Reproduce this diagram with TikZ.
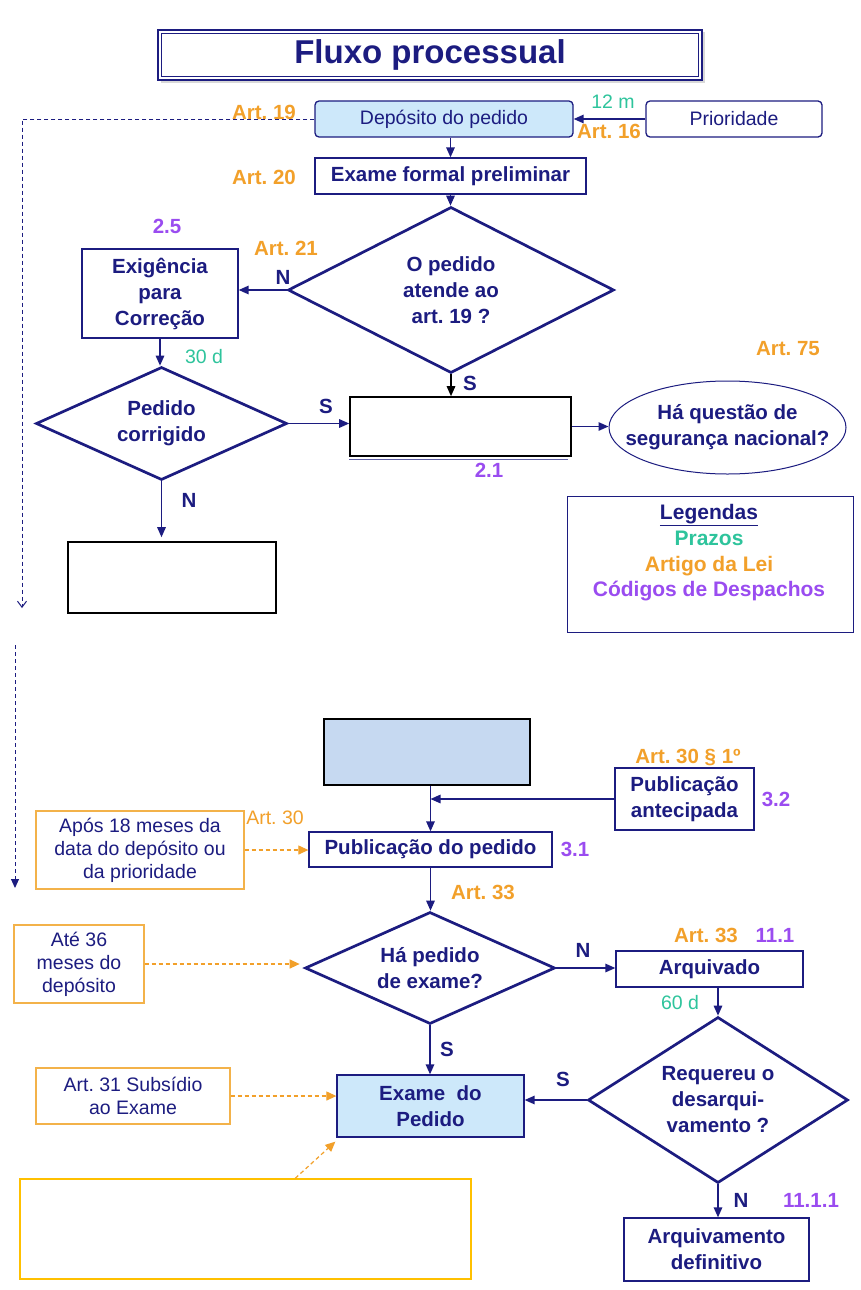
\documentclass[tikz,border=0pt]{standalone}
\usepackage{fontspec}
\setmainfont{Liberation Sans}
\usetikzlibrary{shapes.geometric,arrows.meta,calc,shadows}
\definecolor{navy}{HTML}{1C1C80}
\definecolor{orng}{HTML}{F2A02A}
\definecolor{oborder}{HTML}{F3B24A}
\definecolor{grn}{HTML}{2EC49C}
\definecolor{purp}{HTML}{9A4CF0}
\definecolor{lblue}{HTML}{CDE8FA}
\definecolor{sblue}{HTML}{C6D9F1}
\definecolor{gold}{HTML}{FFC000}
\newcommand\bsz{\fontsize{20.5}{26}\selectfont\bfseries}
\newcommand\rsz{\fontsize{19.5}{23}\selectfont}
\newcommand\tsz{\fontsize{33}{38}\selectfont\bfseries}
\frenchspacing
\begin{document}
\begin{tikzpicture}[x=1pt,y=-1pt,
  arr/.style={draw=navy, line width=1.4pt, -{Triangle[length=10pt,width=8.5pt]}},
  darr/.style={draw=orng, line width=1.2pt, dash pattern=on 4pt off 3pt, -{Triangle[length=10pt,width=9pt]}},
  bx/.style={draw=navy, line width=1.3pt, rectangle, inner sep=0pt, text=navy, align=center, font=\bsz},
  rbx/.style={bx, rounded corners=4pt, font=\rsz},
  dia/.style={draw=navy, line width=2.7pt, diamond, inner sep=0pt, text=navy, align=center, font=\bsz},
  obox/.style={draw=oborder, line width=1.2pt, rectangle, inner sep=0pt, text=navy, align=center, font=\rsz},
  olab/.style={font=\bsz, text=orng, inner sep=0pt},
  plab/.style={font=\bsz, text=purp, inner sep=0pt},
  glab/.style={font=\rsz, text=grn, inner sep=0pt},
  nlab/.style={font=\bsz, text=navy, inner sep=0pt},
]
\useasboundingbox[fill=white] (0,0) rectangle (860,1290);

% title
\node[draw=navy, line width=2.5pt, fill=white, minimum width=544pt, minimum height=50pt, inner sep=0pt,
  drop shadow={shadow xshift=2.5pt, shadow yshift=-2.5pt, fill=gray!60}, text=navy, font=\tsz] (title) at (430,55) {Fluxo processual};
\draw[navy, line width=1pt] ([shift={(4.5pt,-4.5pt)}]title.north west) rectangle ([shift={(-4.5pt,4.5pt)}]title.south east);

% top part
\node[rbx, fill=lblue, minimum width=258pt, minimum height=36pt] (dep) at (444,119) {Depósito do pedido};
\node[rbx, fill=white, minimum width=176pt, minimum height=36pt] (prio) at (734,119) {Prioridade};
\node[bx, minimum width=271pt, minimum height=36pt] (exf) at (450.5,176) {Exame formal preliminar};
\node[dia, aspect=2, minimum width=326pt, minimum height=166pt] (d1) at (451,290) {O pedido\\atende ao\\art. 19 ?};
\node[bx, minimum width=156pt, minimum height=89pt] (exig) at (160,293.5) {Exigência\\para\\Correção};
\node[dia, aspect=2.6, minimum width=251pt, minimum height=113pt] (d2) at (161.5,423.5) {Pedido\\corrigido};
\node[bx, draw=black, line width=1.6pt, minimum width=221pt, minimum height=59pt] (b21) at (460.5,426.5) {};
\draw[navy!70, line width=1pt] ([yshift=-3pt]b21.south west) -- ([yshift=-3pt,xshift=-4pt]b21.south east);
\node[draw=navy, line width=1pt, ellipse, minimum width=237pt, minimum height=93pt, inner xsep=-30pt, inner ysep=0pt, text=navy, align=center, font=\bsz] (ell) at (727.5,427.5) {Há questão de\\segurança nacional?};
\node[bx, draw=black, line width=1.6pt, minimum width=208pt, minimum height=71pt] (blank) at (172,577.5) {};

% legend
\node[draw=navy, line width=1pt, minimum width=286pt, minimum height=136pt, inner sep=0pt] (leg) at (710,564) {};
\node[font=\fontsize{21}{25.7}\selectfont\bfseries, align=center, inner sep=0pt] (legtxt) at (709,553) {\textcolor{navy}{\underline{Legendas}}\\\textcolor{grn}{Prazos}\\\textcolor{orng}{Artigo da Lei}\\\textcolor{purp}{Códigos de Despachos}};

% top labels
\node[olab] (a19) at (264,112) {Art. 19};
\node[glab] (m12) at (613,102) {12 m};
\node[olab] (a16) at (609,131) {Art. 16};
\node[olab] (a20) at (264,177) {Art. 20};
\node[plab] (c25) at (167,226) {2.5};
\node[olab] (a21) at (286,248) {Art. 21};
\node[nlab] (n1) at (283,277) {N};
\node[glab] (d30) at (204,357) {30 d};
\node[nlab] (s1) at (326,406) {S};
\node[nlab] (s2) at (470,383) {S};
\node[nlab] (n2) at (189,500) {N};
\node[plab] (c21) at (489,470) {2.1};
\node[olab] (a75) at (788,349) {Art. 75};

% top connectors
\draw[arr] (prio.west) -- (dep.east);
\draw[arr] (dep.south -| exf.north) -- (exf.north);
\draw[arr] (exf.south) -- (exf.south |- d1.north);
\draw[arr] (d1.west) -- (d1.west -| exig.east);
\draw[arr] (exig.south) -- (exig.south |- d2.north);
\draw[arr] (d2.east) -- (d2.east -| b21.west);
\draw[arr, draw=black] (d1.south) -- (d1.south |- b21.north);
\draw[arr] (b21.east) -- (b21.east -| ell.west);
\draw[arr, shorten >=4pt] (d2.south) -- (d2.south |- blank.north);

% left dashed line
\coordinate (dl1) at (22,119);
\coordinate (dl2) at (22,608);
\coordinate (dl3) at (15,645);
\coordinate (dl4) at (15,888);
\draw[navy, line width=1pt, dash pattern=on 4pt off 3pt, -{Straight Barb[length=6pt,width=9pt,line width=1pt]}] (dep.west) -- (dl1) -- (dl2);
\draw[navy, line width=1pt, dash pattern=on 4pt off 3pt, -{Triangle[length=9pt,width=8pt]}] (dl3) -- (dl4);

% lower part
\node[bx, draw=black, fill=sblue, line width=1.5pt, minimum width=206pt, minimum height=66pt] (blue) at (427,752) {};
\node[bx, minimum width=139pt, minimum height=62pt] (pant) at (684.5,799) {Publicação\\antecipada};
\node[bx, minimum width=243pt, minimum height=35pt] (pub) at (430.5,849.5) {Publicação do pedido};
\node[obox, minimum width=208pt, minimum height=78pt] (ob1) at (140,850) {Após 18 meses da\\data do depósito ou\\da prioridade};
\node[dia, aspect=2.6, minimum width=250pt, minimum height=112pt] (d3) at (430,968) {Há pedido\\de exame?};
\node[obox, minimum width=130pt, minimum height=78pt] (ob2) at (79,964) {Até 36\\meses do\\depósito};
\node[bx, minimum width=187pt, minimum height=36pt] (arq) at (709.5,969) {Arquivado};
\node[dia, aspect=1.6, minimum width=260pt, minimum height=166pt] (d4) at (718,1100) {Requereu o\\desarqui-\\vamento ?};
\node[bx, fill=lblue, minimum width=187pt, minimum height=62pt] (exped) at (430.5,1106) {Exame\ \ do\\Pedido};
\node[obox, minimum width=194pt, minimum height=56pt] (ob3) at (133,1096) {Art. 31 Subsídio\\ao Exame};
\node[draw=gold, line width=1.5pt, minimum width=451pt, minimum height=100pt, inner sep=0pt] (yel) at (245.5,1229) {};
\node[bx, minimum width=185pt, minimum height=63pt] (adef) at (716.5,1249.5) {Arquivamento\\definitivo};

% lower labels
\node[olab] (a301) at (688,757) {Art. 30 § 1º};
\node[plab] (c32) at (776,799) {3.2};
\node[plab] (c31) at (575,849) {3.1};
\node[font=\rsz, text=orng, inner sep=0pt] (a30) at (275,818) {Art. 30};
\node[olab] (a33a) at (483,892) {Art. 33};
\node[nlab] (n3) at (583,950) {N};
\node[olab] (a33b) at (706,935) {Art. 33};
\node[plab] (c111) at (775,935) {11.1};
\node[glab] (d60) at (680,1003) {60 d};
\node[nlab] (s3) at (447,1049) {S};
\node[nlab] (s4) at (563,1079) {S};
\node[nlab] (n4) at (741,1200) {N};
\node[plab] (c1111) at (811,1200) {11.1.1};

% lower connectors
\draw[arr] (pub.north |- blue.south) -- (pub.north);
\draw[arr] (pant.west) -- (pant.west -| pub.north);
\draw[darr] (ob1.east) -- (ob1.east -| pub.west);
\draw[arr] (pub.south) -- (pub.south |- d3.north);
\draw[darr, shorten >=4pt] (ob2.east) -- (ob2.east -| d3.west);
\draw[arr] (d3.east) -- (d3.east -| arq.west);
\draw[arr] (arq.south -| d4.north) -- (d4.north);
\draw[arr] (d4.west) -- (d4.west -| exped.east);
\draw[arr] (d3.south) -- (d3.south |- exped.north);
\draw[darr] (ob3.east) -- (ob3.east -| exped.west);
\coordinate (ydiag) at ($(yel.north west)!0.61!(yel.north east)$);
\draw[darr] (ydiag) -- ([shift={(-1pt,-4pt)}]exped.south west);
\draw[arr] (d4.south) -- (d4.south |- adef.north);
\end{tikzpicture}
\end{document}
